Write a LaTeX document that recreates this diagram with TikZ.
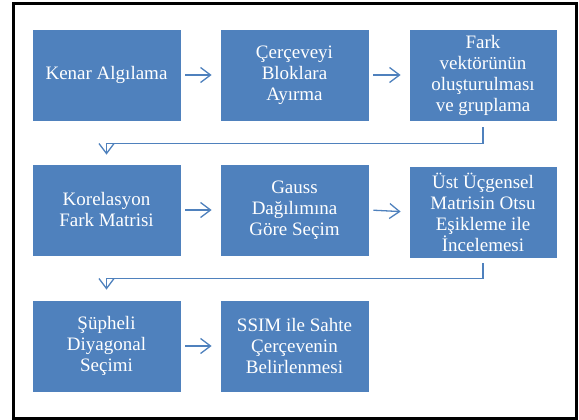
\documentclass[tikz,border=0pt]{standalone}
\usepackage{fontspec}
\setmainfont{Liberation Serif}
\usetikzlibrary{arrows.meta}
\definecolor{boxblue}{HTML}{4F81BD}
\definecolor{linkblue}{HTML}{4F81BD}
\begin{document}
\begin{tikzpicture}[x=1pt,y=-1pt,
  stepbox/.style={rectangle, fill=boxblue, draw=white, line width=0.8pt, minimum width=149pt, minimum height=92pt, inner sep=2pt, align=center, text=white, font=\fontsize{19}{21}\selectfont},
  conn/.style={draw=linkblue, line width=1.3pt, -{Straight Barb[length=10pt,width=15pt,line width=1.3pt]}},
  elbow/.style={draw=linkblue, line width=1.3pt, -{Straight Barb[length=10pt,width=15pt,line width=1.3pt]}, rounded corners=0pt}
]
\useasboundingbox (0,0) rectangle (579,420);
\draw[line width=2.5pt] (13.5,3.5) rectangle (576.5,418.5);

\node[stepbox] (b1) at (106.5,75) {Kenar Algılama};
\node[stepbox] (b2) at (294.5,75) {Çerçeveyi\\Bloklara\\Ayırma};
\node[stepbox, minimum width=148pt] (b3) at (483,75) {Fark\\vektörünün\\oluşturulması\\ve gruplama};

\node[stepbox] (b4) at (106.5,210) {Korelasyon\\Fark Matrisi};
\node[stepbox] (b5) at (294.5,210) {Gauss\\Dağılımına\\Göre Seçim};
\node[stepbox, minimum width=148pt] (b6) at (483,212) {Üst Üçgensel\\Matrisin Otsu\\Eşikleme ile\\İncelemesi};

\node[stepbox] (b7) at (106.5,346) {Şüpheli\\Diyagonal\\Seçimi};
\node[stepbox] (b8) at (294.5,346) {SSIM ile Sahte\\Çerçevenin\\Belirlenmesi};

\draw[conn, shorten <=4pt, shorten >=8pt] (b1.east) -- (b2.west);
\draw[conn, shorten <=4pt, shorten >=8pt] (b2.east) -- (b3.west);
\draw[conn, shorten <=4pt, shorten >=8pt] (b4.east) -- (b5.west);
\draw[conn, shorten <=4pt, shorten >=8pt] (b5.east) -- (b6.west);
\draw[conn, shorten <=4pt, shorten >=8pt] (b7.east) -- (b8.west);

\draw[elbow, shorten <=6pt, shorten >=9pt] (b3.south) -- ++(0,22) -| (b4.north);
\draw[elbow, shorten <=5pt, shorten >=10pt] (b6.south) -- ++(0,20) -| (b7.north);
\end{tikzpicture}
\end{document}
